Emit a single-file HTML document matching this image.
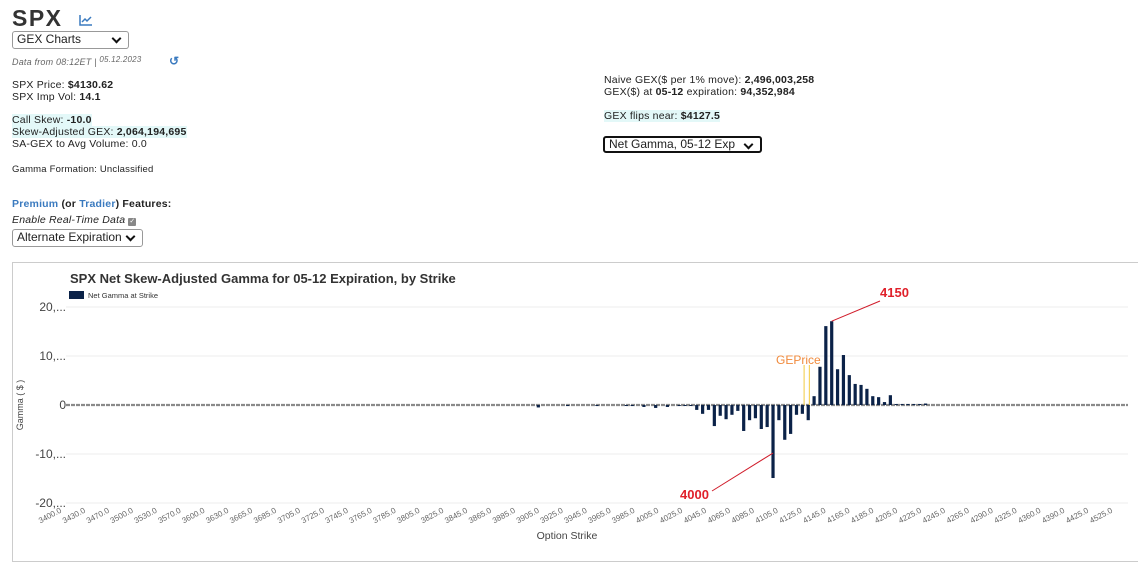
<!DOCTYPE html>
<html><head><meta charset="utf-8">
<style>
body{margin:0;width:1138px;height:553px;overflow:hidden;background:#fff;font-family:"Liberation Sans",Arial,sans-serif;color:#222;position:relative}
.t{position:absolute;font-size:10.5px;line-height:12px;white-space:nowrap;letter-spacing:0.2px}
.sel{position:absolute;border:1px solid #999;border-radius:3px;font-size:12px;line-height:15px;padding-left:4px;box-sizing:border-box;background:#fff}
.sel:after{content:"";position:absolute;right:8px;top:3px;width:5px;height:5px;border-right:2px solid #111;border-bottom:2px solid #111;transform:rotate(45deg)}
.hl{background:#e3f8f8}
b{font-weight:bold}
</style></head><body>
<div class="t" style="left:12px;top:5px;font-size:23px;line-height:26px;font-weight:bold;letter-spacing:1.5px;color:#333">SPX</div>
<svg style="position:absolute;left:79px;top:14px" width="14" height="12"><path d="M1 1V11H13" stroke="#3a7abf" fill="none" stroke-width="1.5"/><path d="M3 8L6 5L8 7L12 3" stroke="#3a7abf" fill="none" stroke-width="1.5"/></svg>
<div class="sel" style="left:12px;top:31px;width:117px;height:18px">GEX Charts</div>
<div class="t" style="left:12px;top:56px;font-style:italic;font-size:9px;color:#666">Data from 08:12ET | <span style="position:relative;top:-3px;font-size:8px">05.12.2023</span></div>
<div class="t" style="left:169px;top:55px;color:#3a7abf;font-size:12px;font-weight:bold">↺</div>
<div class="t" style="left:12px;top:79px">SPX Price: <b>$4130.62</b></div>
<div class="t" style="left:12px;top:91px">SPX Imp Vol: <b>14.1</b></div>
<div class="t hl" style="left:12px;top:114px">Call Skew: <b>-10.0</b></div>
<div class="t hl" style="left:12px;top:126px">Skew-Adjusted GEX: <b>2,064,194,695</b></div>
<div class="t" style="left:12px;top:138px">SA-GEX to Avg Volume: 0.0</div>
<div class="t" style="left:12px;top:164px;font-size:9.5px">Gamma Formation: Unclassified</div>
<div class="t" style="left:12px;top:198px;font-weight:bold"><span style="color:#3a7abf">Premium</span> (or <span style="color:#3a7abf">Tradier</span>) Features:</div>
<div class="t" style="left:12px;top:214px;font-style:italic">Enable Real-Time Data <span style="display:inline-block;width:8px;height:8px;background:#888;border-radius:1px;color:#fff;font-size:7px;line-height:8px;text-align:center;font-style:normal">✓</span></div>
<div class="sel" style="left:12px;top:229px;width:131px;height:18px">Alternate Expiration</div>
<div class="t" style="left:604px;top:74px">Naive GEX($ per 1% move): <b>2,496,003,258</b></div>
<div class="t" style="left:604px;top:86px">GEX($) at <b>05-12</b> expiration: <b>94,352,984</b></div>
<div class="t hl" style="left:604px;top:110px">GEX flips near: <b>$4127.5</b></div>
<div class="sel" style="left:603px;top:136px;width:159px;height:17px;border:2px solid #111;line-height:13px">Net Gamma, 05-12 Exp</div>

<div style="position:absolute;left:12px;top:262px;width:1130px;height:300px;border:1px solid #ccc;box-sizing:border-box"></div>
<svg id="chart" style="position:absolute;left:0;top:0" width="1138" height="553"></svg>
<script>
const strikeLabels=[3400,3430,3470,3500,3530,3570,3600,3630,3665,3685,3705,3725,3745,3765,3785,3805,3825,3845,3865,3885,3905,3925,3945,3965,3985,4005,4025,4045,4065,4085,4105,4125,4145,4165,4185,4205,4225,4245,4265,4290,4325,4360,4390,4425,4525];
const yTicks=[20000,10000,0,-10000,-20000];
const yTickLabels=["20,...","10,...","0","-10,...","-20,..."];
const gamma=[
0,0,0,0,0,0,0,0,0,0, 0,0,0,0,0,0,0,0,0,0, 0,0,0,0,0,0,0,0,0,0, 0,0,0,0,0,0,0,0,0,0,
0,0,0,0,0,0,0,0,0,0, 0,0,0,0,0,0,0,0,0,0, 0,0,0,0,0,0,0,0,0,0, 0,0,0,0,0,0,0,0,0,0,
-500,0,0,0,0,-200,0,0,0,0,
-200,0,0,0,0,-200,-200,0,-400,0,
-600,0,-400,0,-200,-200,-200,-1000,-1800,-1000,
-4300,-2200,-2900,-2000,-1200,-5300,-3100,-2700,-4900,-4500,
-14900,-3100,-7100,-5900,-2000,-1800,-3100,1800,7800,16100,
17100,7300,10200,6100,4300,4100,3300,1800,1600,600,
2000,200,200,200,200,200,300,0,0,0,
0,0,0,0,0,0,0,0,0,0, 0,0,0,0,0,0,0,0,0,0, 0,0,0,0,0,0,0,0,0,0, 0];
const priceLines=[125.3,126.2];
const annotations=[{label:"4150",idx:130,val:17100,tx:880,ty:297},{label:"4000",idx:120,val:-9800,tx:680,ty:499}];

const NS="http://www.w3.org/2000/svg";
const svg=document.getElementById('chart');
const X0=66,X1=1128,Y0=405,PPU=49/10000;
const step=(X1-X0)/gamma.length;
function xs(i){return X0+(i+0.5)*step;}
function ys(v){return Y0-v*PPU;}
function mk(tag,attrs,txt){const e=document.createElementNS(NS,tag);for(const k in attrs)e.setAttribute(k,attrs[k]);if(txt!==undefined)e.textContent=txt;svg.appendChild(e);return e;}

yTicks.forEach((v,i)=>{
  if(v!==0){const g=mk('line',{x1:X0,x2:X1,y1:ys(v),y2:ys(v),stroke:'#eeeeee','stroke-width':1});
  
  }
  const t=mk('text',{x:66,y:ys(v)+4,'text-anchor':'end','font-size':12,fill:'#444','font-family':'Liberation Sans, sans-serif'},yTickLabels[i]);
  
  
});
const zl=mk('line',{x1:X0,x2:X1,y1:Y0,y2:Y0,stroke:'#8a8a8a','stroke-width':2.2,'stroke-dasharray':'4 1'});



gamma.forEach((v,i)=>{
  if(v===0)return;
  const y=Math.min(ys(v),Y0),h=Math.max(Math.abs(v*PPU),1);
  const b=mk('rect',{x:xs(i)-1.6,y:y,width:3.2,height:h,fill:'#0b2248'});
  
  
});
priceLines.forEach(p=>{
  const l=mk('line',{x1:xs(p),x2:xs(p),y1:365,y2:Y0,stroke:'#f4d35e','stroke-width':1.2});
  
  
});
const gp=mk('text',{x:776,y:364,'font-size':12,fill:'#f08a3c','font-family':'Liberation Sans, sans-serif'},'GEPrice');



annotations.forEach(a=>{
  const ax=xs(a.idx),ay=ys(a.val);
  const l=mk('line',{x1:a.tx+(a.ty<400?0:32),y1:a.ty+(a.ty<400?4:-8),x2:ax,y2:ay,stroke:'#d01c2a','stroke-width':1});
  
  
  const t=mk('text',{x:a.tx,y:a.ty,'font-size':13,'font-weight':'bold',fill:'#e0202a','font-family':'Liberation Sans, sans-serif'},a.label);
  
  
});

const LX0=62,LX1=1113;
strikeLabels.forEach((s,i)=>{
  const x=LX0+i*(LX1-LX0)/(strikeLabels.length-1);
  const t=mk('text',{x:x,y:512,'text-anchor':'end','font-size':8,fill:'#666',transform:`rotate(-28 ${x} 512)`,'font-family':'Liberation Sans, sans-serif'},s.toFixed(1));
  
  
});
const xt=mk('text',{x:567,y:539,'text-anchor':'middle','font-size':10.5,fill:'#444','font-family':'Liberation Sans, sans-serif'},'Option Strike');


const yt=mk('text',{x:23,y:405,'text-anchor':'middle','font-size':9,fill:'#444',transform:'rotate(-90 23 405)','font-family':'Liberation Sans, sans-serif'},'Gamma ( $ )');


const ti=mk('text',{x:70,y:283,'font-size':13,'font-weight':'bold',fill:'#333','font-family':'Liberation Sans, sans-serif'},'SPX Net Skew-Adjusted Gamma for 05-12 Expiration, by Strike');


const lg=mk('rect',{x:69,y:291,width:15,height:8,fill:'#0b2248'});


const lt=mk('text',{x:88,y:298,'font-size':7.5,fill:'#333','font-family':'Liberation Sans, sans-serif'},'Net Gamma at Strike');


</script>
</body></html>
